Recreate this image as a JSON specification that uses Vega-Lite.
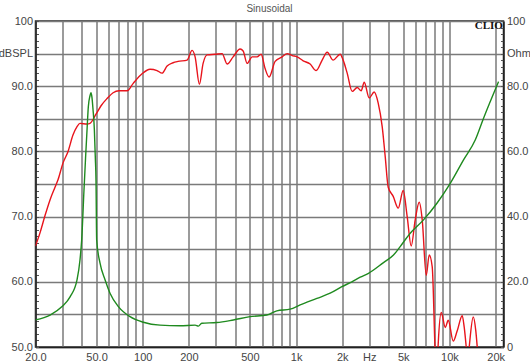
{
  "$schema": "https://vega.github.io/schema/vega-lite/v6.json",
  "width": 468,
  "height": 326,
  "autosize": {"type": "none"},
  "padding": {"left": 35.5, "top": 21, "right": 26.5, "bottom": 17},
  "background": "white",
  "title": {"text": "Sinusoidal", "fontSize": 10, "font": "Liberation Sans", "fontWeight": "normal", "color": "#555555", "offset": 1, "anchor": "middle"},
  "config": {
    "view": {"stroke": "#222222", "strokeWidth": 1.5},
    "axis": {"labelFont": "Liberation Sans", "labelFontSize": 11, "labelColor": "#444444", "domainColor": "#222222", "domainWidth": 1.5, "gridColor": "#7a7a7a", "gridWidth": 1.5, "labelFlush": false, "labelOverlap": false, "title": null}
  },
  "datasets": {
    "spl": [
      {"freq": 20, "db": 65.5}, {"freq": 21.4, "db": 67.5}, {"freq": 23.1, "db": 70.2}, {"freq": 24.9, "db": 72.6},
      {"freq": 26.8, "db": 74.5}, {"freq": 28.0, "db": 75.6}, {"freq": 30.2, "db": 78.2}, {"freq": 32.6, "db": 80.0},
      {"freq": 35.1, "db": 82.5}, {"freq": 37.3, "db": 83.8}, {"freq": 39.0, "db": 84.3}, {"freq": 43.4, "db": 84.2},
      {"freq": 45.3, "db": 84.3}, {"freq": 49.6, "db": 85.7}, {"freq": 53.5, "db": 87.0}, {"freq": 58.5, "db": 88.1},
      {"freq": 64.1, "db": 89.0}, {"freq": 70.1, "db": 89.3}, {"freq": 79.1, "db": 89.3}, {"freq": 86.5, "db": 90.4},
      {"freq": 99.0, "db": 91.9}, {"freq": 111.6, "db": 92.6}, {"freq": 124, "db": 92.4}, {"freq": 133.7, "db": 92.0},
      {"freq": 144.2, "db": 93.1}, {"freq": 157.7, "db": 93.6}, {"freq": 170, "db": 93.8}, {"freq": 194.7, "db": 94.0},
      {"freq": 209.9, "db": 95.5}, {"freq": 219.6, "db": 94.5}, {"freq": 234.2, "db": 90.3}, {"freq": 247.6, "db": 93.5},
      {"freq": 263, "db": 94.8}, {"freq": 296.6, "db": 94.9}, {"freq": 329.4, "db": 95.0}, {"freq": 355, "db": 93.4},
      {"freq": 388.6, "db": 94.5}, {"freq": 431.6, "db": 95.7}, {"freq": 451.6, "db": 95.4}, {"freq": 479.6, "db": 93.5},
      {"freq": 517, "db": 94.5}, {"freq": 557, "db": 94.5}, {"freq": 591.6, "db": 94.9}, {"freq": 628, "db": 92.7},
      {"freq": 667, "db": 91.4}, {"freq": 730, "db": 93.8}, {"freq": 811, "db": 94.5}, {"freq": 874, "db": 95.0},
      {"freq": 943, "db": 94.7}, {"freq": 1016, "db": 94.5}, {"freq": 1112, "db": 93.9}, {"freq": 1235, "db": 93.4},
      {"freq": 1351, "db": 92.4}, {"freq": 1479, "db": 94.0}, {"freq": 1595, "db": 95.2}, {"freq": 1745, "db": 94.0},
      {"freq": 1938, "db": 94.9}, {"freq": 2027, "db": 94.0}, {"freq": 2153, "db": 92.0}, {"freq": 2320, "db": 89.2},
      {"freq": 2502, "db": 89.8}, {"freq": 2657, "db": 89.3}, {"freq": 2780, "db": 90.6}, {"freq": 2996, "db": 88.2},
      {"freq": 3230, "db": 89.1}, {"freq": 3430, "db": 87.4}, {"freq": 3642, "db": 83.8}, {"freq": 3811, "db": 79.2},
      {"freq": 3986, "db": 74.5}, {"freq": 4297, "db": 73.1}, {"freq": 4631, "db": 71.3}, {"freq": 4993, "db": 74.0},
      {"freq": 5300, "db": 70.0}, {"freq": 5629, "db": 65.5}, {"freq": 5978, "db": 69.5}, {"freq": 6349, "db": 72.2},
      {"freq": 6643, "db": 69.5}, {"freq": 7055, "db": 61.0}, {"freq": 7377, "db": 64.1}, {"freq": 7718, "db": 62.3},
      {"freq": 8072, "db": 49.0}, {"freq": 8256, "db": 45.0}, {"freq": 8444, "db": 50.5}, {"freq": 8838, "db": 55.3},
      {"freq": 9385, "db": 53.0}, {"freq": 9816, "db": 54.1}, {"freq": 10580, "db": 50.9}, {"freq": 11234, "db": 52.5},
      {"freq": 12110, "db": 54.8}, {"freq": 12480, "db": 53.0}, {"freq": 12860, "db": 50.0}, {"freq": 13150, "db": 47.5},
      {"freq": 13450, "db": 50.0}, {"freq": 14290, "db": 54.6}, {"freq": 14840, "db": 52.5}, {"freq": 15170, "db": 50.0},
      {"freq": 15630, "db": 46.0}, {"freq": 18440, "db": 44.0}, {"freq": 22500, "db": 44.0}
    ],
    "imp": [
      {"freq": 20, "ohm": 8.3}, {"freq": 24.9, "ohm": 9.8}, {"freq": 29.8, "ohm": 12.4}, {"freq": 33.6, "ohm": 15.4},
      {"freq": 37.3, "ohm": 20.6}, {"freq": 39.0, "ohm": 26.7}, {"freq": 40.0, "ohm": 32.8}, {"freq": 41.4, "ohm": 48},
      {"freq": 42.4, "ohm": 58}, {"freq": 43.4, "ohm": 67}, {"freq": 44.2, "ohm": 73.7}, {"freq": 45.3, "ohm": 77},
      {"freq": 46.0, "ohm": 78}, {"freq": 46.7, "ohm": 76.5}, {"freq": 47.4, "ohm": 73}, {"freq": 48.4, "ohm": 66.6},
      {"freq": 49.1, "ohm": 58}, {"freq": 49.6, "ohm": 51}, {"freq": 50.1, "ohm": 32.8}, {"freq": 52.7, "ohm": 25.7},
      {"freq": 56.8, "ohm": 20.6}, {"freq": 61.2, "ohm": 16.5}, {"freq": 69.4, "ohm": 12.4}, {"freq": 82.7, "ohm": 9.3},
      {"freq": 101, "ohm": 7.6}, {"freq": 129.7, "ohm": 6.7}, {"freq": 175, "ohm": 6.5}, {"freq": 219.6, "ohm": 6.7},
      {"freq": 230.7, "ohm": 6.4}, {"freq": 242.7, "ohm": 7.3}, {"freq": 304, "ohm": 7.5}, {"freq": 390, "ohm": 8.3},
      {"freq": 501, "ohm": 9.3}, {"freq": 644, "ohm": 9.8}, {"freq": 749, "ohm": 11.1}, {"freq": 914, "ohm": 11.6},
      {"freq": 1063, "ohm": 12.9}, {"freq": 1366, "ohm": 14.9}, {"freq": 1668, "ohm": 16.5}, {"freq": 1988, "ohm": 18.5},
      {"freq": 2310, "ohm": 20.0}, {"freq": 2618, "ohm": 21.4}, {"freq": 2964, "ohm": 22.6}, {"freq": 3714, "ohm": 25.9},
      {"freq": 4315, "ohm": 28.2}, {"freq": 4772, "ohm": 30.8}, {"freq": 5546, "ohm": 34.9}, {"freq": 6772, "ohm": 39.0},
      {"freq": 8284, "ohm": 44.1}, {"freq": 10116, "ohm": 50.2}, {"freq": 12350, "ohm": 57.4}, {"freq": 14720, "ohm": 63.5},
      {"freq": 16680, "ohm": 70.2}, {"freq": 20890, "ohm": 81.4}
    ]
  },
  "layer": [
    {
      "layer": [
        {
          "data": {"name": "spl"},
          "mark": {"type": "line", "color": "#e8141c", "strokeWidth": 1.4, "clip": true, "interpolate": "monotone"},
          "encoding": {
            "x": {
              "field": "freq", "type": "quantitative",
              "scale": {"type": "log", "domain": [20, 22500], "nice": false},
              "axis": {
                "values": [20,30,40,50,60,70,80,90,100,200,300,400,500,600,700,800,900,1000,2000,3000,4000,5000,6000,7000,8000,9000,10000,20000],
                "grid": true, "ticks": false, "labelPadding": 4, "labelOverlap": false,
                "labelExpr": "datum.value==20?'20.0':datum.value==50?'50.0':datum.value==100?'100':datum.value==200?'200':datum.value==500?'500':datum.value==1000?'1k':datum.value==2000?'2k':datum.value==3000?'Hz':datum.value==5000?'5k':datum.value==10000?'10k':datum.value==20000?'20k':''"
              }
            },
            "y": {
              "field": "db", "type": "quantitative",
              "scale": {"domain": [50, 100], "nice": false, "zero": false},
              "axis": {
                "orient": "left",
                "values": [50,51,52,53,54,55,56,57,58,59,60,61,62,63,64,65,66,67,68,69,70,71,72,73,74,75,76,77,78,79,80,81,82,83,84,85,86,87,88,89,90,91,92,93,94,95,96,97,98,99,100],
                "grid": true, "labelOverlap": false,
                "gridOpacity": {"condition": {"test": "datum.value % 5 === 0", "value": 1}, "value": 0},
                "tickSize": -3, "tickColor": "#555555", "labelPadding": 6,
                "labelExpr": "datum.value==100?'100':datum.value==95?'dBSPL':(datum.value%10==0?format(datum.value,'.1f'):'')"
              }
            }
          }
        },
        {
          "data": {"values": [{"freq": 22300, "db": 99.2, "label": "CLIO"}]},
          "mark": {"type": "text", "font": "Liberation Serif", "fontWeight": "bold", "fontSize": 11, "align": "right", "baseline": "middle", "color": "#111111"},
          "encoding": {
            "x": {
              "field": "freq", "type": "quantitative",
              "axis": {
                "values": [20,30,40,50,60,70,80,90,100,200,300,400,500,600,700,800,900,1000,2000,3000,4000,5000,6000,7000,8000,9000,10000,20000],
                "grid": true, "ticks": false, "labelPadding": 4, "labelOverlap": false,
                "labelExpr": "datum.value==20?'20.0':datum.value==50?'50.0':datum.value==100?'100':datum.value==200?'200':datum.value==500?'500':datum.value==1000?'1k':datum.value==2000?'2k':datum.value==3000?'Hz':datum.value==5000?'5k':datum.value==10000?'10k':datum.value==20000?'20k':''"
              }
            },
            "y": {
              "field": "db", "type": "quantitative",
              "axis": {
                "orient": "left",
                "values": [50,51,52,53,54,55,56,57,58,59,60,61,62,63,64,65,66,67,68,69,70,71,72,73,74,75,76,77,78,79,80,81,82,83,84,85,86,87,88,89,90,91,92,93,94,95,96,97,98,99,100],
                "grid": true, "labelOverlap": false,
                "gridOpacity": {"condition": {"test": "datum.value % 5 === 0", "value": 1}, "value": 0},
                "tickSize": -3, "tickColor": "#555555", "labelPadding": 6,
                "labelExpr": "datum.value==100?'100':datum.value==95?'dBSPL':(datum.value%10==0?format(datum.value,'.1f'):'')"
              }
            },
            "text": {"field": "label"}
          }
        }
      ]
    },
    {
      "data": {"name": "imp"},
      "mark": {"type": "line", "color": "#1f8a1f", "strokeWidth": 1.4, "clip": true, "interpolate": "monotone"},
      "encoding": {
        "x": {"field": "freq", "type": "quantitative"},
        "y": {
          "field": "ohm", "type": "quantitative",
          "scale": {"domain": [0, 100], "nice": false},
          "axis": {
            "orient": "right",
            "values": [0,2,4,6,8,10,12,14,16,18,20,22,24,26,28,30,32,34,36,38,40,42,44,46,48,50,52,54,56,58,60,62,64,66,68,70,72,74,76,78,80,82,84,86,88,90,92,94,96,98,100],
            "grid": false, "tickSize": -3, "tickColor": "#555555", "labelPadding": 6, "labelOverlap": false,
            "labelExpr": "datum.value==100?'100':datum.value==90?'Ohm':datum.value==0?'0':(datum.value%20==0?format(datum.value,'.1f'):'')"
          }
        }
      }
    }
  ],
  "resolve": {"scale": {"y": "independent"}}
}
